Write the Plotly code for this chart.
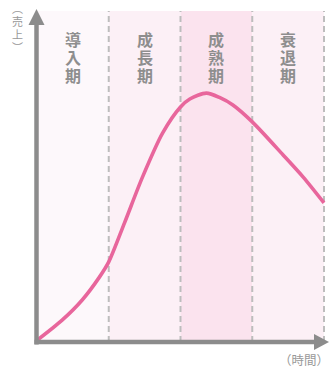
import plotly.graph_objects as go

# Product life cycle: sales over time across four phases
phases = ["導入期", "成長期", "成熟期", "衰退期"]
phase_fills = ["#fdf8fb", "#fcf0f6", "#fbe3ee", "#fcf0f6"]

# time in phase units (0-4), sales as % of chart height
time = [0.0, 0.35, 0.63, 0.87, 1.0, 1.22, 1.47, 1.75, 2.0, 2.13, 2.36, 2.55, 2.73, 3.0, 3.43, 3.71, 4.0]
sales = [0.5, 6.6, 12.7, 19.6, 24.2, 36.0, 49.8, 63.1, 71.0, 73.4, 75.2, 73.8, 71.6, 66.5, 56.5, 49.8, 42.0]

y_label = "︵売上︶"
x_label = "（時間）"

W, H = 329, 372
X0_PX, PX_PER_T = 37.0, 71.75
Y0_PX, PX_PER_S = 342.0, 3.31
AXIS_GRAY = "#8c8c8c"
TEXT_GRAY = "#8e8e8e"
# Latin face first keeps the line box compact; CJK glyphs come from Noto Sans CJK
FONT = "Liberation Sans, Noto Sans CJK JP"


def px(x):
    return x / W


def py(y):
    return 1 - y / H


def vertical(text, glyph_size, bold=False):
    """Stack glyphs one per line; line pitch follows the base font size."""
    rows = []
    for ch in text:
        cell = f"<span style='font-size:{glyph_size}px'>{ch}</span>"
        rows.append(f"<b>{cell}</b>" if bold else cell)
    return "<br>".join(rows)


fig = go.Figure()

fig.add_trace(go.Scatter(
    x=time, y=sales, mode="lines",
    line=dict(color="#e8669c", width=3.6, shape="spline", smoothing=0.8),
    hoverinfo="skip", showlegend=False,
))

shapes = []
# phase bands
for i, fill in enumerate(phase_fills):
    shapes.append(dict(type="rect", xref="x", yref="y", x0=i, x1=i + 1, y0=0, y1=100,
                       fillcolor=fill, line=dict(width=0), layer="below"))
# dashed phase boundaries
for i in range(1, len(phases) + 1):
    shapes.append(dict(type="line", xref="x", yref="y", x0=i, x1=i, y0=0, y1=100,
                       line=dict(color="#bdbdbd", width=2, dash="6px,4px"), layer="below"))
# axes with arrowheads
shapes.append(dict(type="line", xref="paper", yref="paper",
                   x0=px(36.5), x1=px(36.5), y0=py(344.5), y1=py(22),
                   line=dict(color=AXIS_GRAY, width=4.5)))
shapes.append(dict(type="path", xref="paper", yref="paper",
                   path=f"M {px(36.5)} {py(9)} L {px(28.5)} {py(25)} L {px(44.5)} {py(25)} Z",
                   fillcolor=AXIS_GRAY, line=dict(width=0)))
shapes.append(dict(type="line", xref="paper", yref="paper",
                   x0=px(34.5), x1=px(318), y0=py(342), y1=py(342),
                   line=dict(color=AXIS_GRAY, width=4.5)))
shapes.append(dict(type="path", xref="paper", yref="paper",
                   path=f"M {px(329)} {py(342)} L {px(314)} {py(334)} L {px(314)} {py(350)} Z",
                   fillcolor=AXIS_GRAY, line=dict(width=0)))

annotations = []
# vertical phase labels (18px line pitch, 16px glyphs)
for i, name in enumerate(phases):
    annotations.append(dict(
        x=i + 0.5, xref="x", y=py(58.5), yref="paper",
        text=vertical(name, 16, bold=True), showarrow=False,
        xanchor="center", yanchor="middle",
        font=dict(family=FONT, size=13.85, color=TEXT_GRAY),
    ))

# vertical y-axis title
annotations.append(dict(
    x=px(17), xref="paper", y=py(28.5), yref="paper",
    text=vertical(y_label, 11), showarrow=False,
    xanchor="center", yanchor="middle",
    font=dict(family=FONT, size=10, color="#999999"),
))

annotations.append(dict(
    x=px(303.5), xref="paper", y=py(361), yref="paper", text=x_label, showarrow=False,
    xanchor="center", yanchor="middle",
    font=dict(family=FONT, size=12.5, color="#999999"),
))

fig.update_layout(
    width=W, height=H,
    margin=dict(l=0, r=0, t=0, b=0),
    paper_bgcolor="white", plot_bgcolor="white",
    xaxis=dict(range=[-X0_PX / PX_PER_T, (W - X0_PX) / PX_PER_T], visible=False, fixedrange=True),
    yaxis=dict(range=[(Y0_PX - H) / PX_PER_S, Y0_PX / PX_PER_S], visible=False, fixedrange=True),
    shapes=shapes, annotations=annotations,
    showlegend=False,
)

fig.write_html("out.html", config={"displayModeBar": False})
